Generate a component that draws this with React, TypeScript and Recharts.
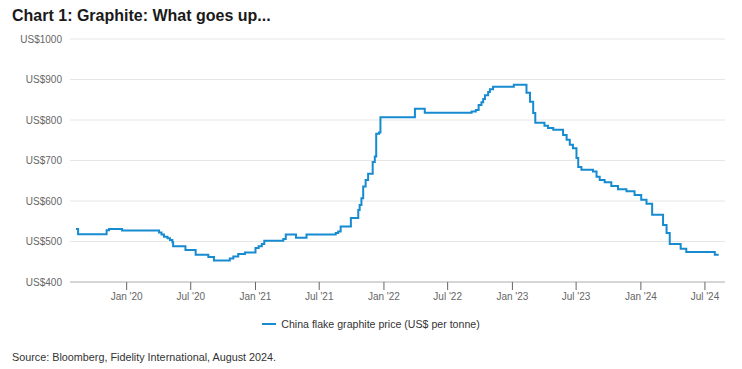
import React from 'react';
import { LineChart, Line, XAxis, YAxis, CartesianGrid } from 'recharts';

const dates = [
  '2019-08-10', '2019-08-16', '2019-11-05', '2019-11-12', '2019-12-19',
  '2020-04-02', '2020-04-09', '2020-04-16', '2020-04-26', '2020-05-03',
  '2020-05-10', '2020-05-12', '2020-06-16', '2020-07-15', '2020-08-20',
  '2020-09-05', '2020-10-20', '2020-10-30', '2020-11-13', '2020-12-02',
  '2021-01-01', '2021-01-10', '2021-01-19', '2021-01-26', '2021-03-21',
  '2021-03-28', '2021-04-26', '2021-05-26', '2021-08-17', '2021-08-24',
  '2021-08-31', '2021-09-29', '2021-10-20', '2021-10-24', '2021-10-29',
  '2021-11-03', '2021-11-10', '2021-11-17', '2021-11-30', '2021-12-06',
  '2021-12-10', '2021-12-18', '2021-12-22', '2022-03-30', '2022-04-27',
  '2022-09-07', '2022-09-19', '2022-09-27', '2022-10-05', '2022-10-10',
  '2022-10-15', '2022-10-24', '2022-10-29', '2022-11-07', '2023-01-05',
  '2023-02-10', '2023-02-20', '2023-03-01', '2023-03-07', '2023-04-02',
  '2023-04-12', '2023-04-27', '2023-05-25', '2023-06-04', '2023-06-13',
  '2023-06-22', '2023-07-02', '2023-07-07', '2023-07-16', '2023-08-18',
  '2023-08-28', '2023-09-06', '2023-09-20', '2023-10-09', '2023-10-28',
  '2023-11-21', '2023-12-14', '2024-01-02', '2024-01-17', '2024-02-02',
  '2024-03-04', '2024-03-14', '2024-03-23', '2024-04-23', '2024-05-09',
  '2024-07-29', '2024-08-09',
];

const prices = [
  531, 518, 528, 531, 527,
  522, 517, 512, 508, 504,
  498, 488, 479, 467, 462,
  453, 458, 463, 469, 473,
  484, 488, 494, 502, 506,
  517, 509, 517, 521, 525,
  537, 558, 578, 590, 607,
  636, 652, 667, 696, 710,
  766, 769, 807, 828, 818,
  821, 825, 837, 844, 852,
  861, 869, 876, 882, 887,
  867, 845, 817, 793, 786,
  780, 776, 763, 751, 739,
  730, 706, 684, 677, 673,
  660, 652, 646, 637, 629,
  624, 615, 603, 593, 566,
  541, 521, 494, 482, 474,
  467, 467,
];

const xTickDates = [
  '2020-01-01', '2020-07-01', '2021-01-01', '2021-07-01', '2022-01-01',
  '2022-07-01', '2023-01-01', '2023-07-01', '2024-01-01', '2024-07-01',
];
const xTickLabels = [
  "Jan '20", "Jul '20", "Jan '21", "Jul '21", "Jan '22",
  "Jul '22", "Jan '23", "Jul '23", "Jan '24", "Jul '24",
];
const yTicks = [400, 500, 600, 700, 800, 900, 1000];
const xDomainDates = ['2019-07-24', '2024-08-27'];

const seriesName = 'China flake graphite price (US$ per tonne)';
const titleText = 'Chart 1: Graphite: What goes up...';
const sourceText = 'Source: Bloomberg, Fidelity International, August 2024.';

const toTs = (d: string) => Date.parse(d + 'T00:00:00Z');
const data = dates.map((d, i) => ({ t: toTs(d), price: prices[i] }));
const xTicks = xTickDates.map(toTs);
const xDomain = xDomainDates.map(toTs);
const fmtX = (v: number) => {
  const i = xTicks.indexOf(v);
  return i >= 0 ? xTickLabels[i] : '';
};
const fmtY = (v: number) => `US$${v}`;

const FONT = '"Liberation Sans", Arial, Helvetica, sans-serif';
const LINE_COLOR = '#168bd0';

export default function App() {
  return (
    <div
      style={{
        position: 'absolute',
        left: 0,
        top: 0,
        width: 742,
        height: 369,
        background: '#ffffff',
        fontFamily: FONT,
      }}
    >
      <div
        style={{
          position: 'absolute',
          left: 12,
          top: 7,
          fontSize: 16,
          fontWeight: 'bold',
          color: '#1a1a1a',
          whiteSpace: 'nowrap',
        }}
      >
        {titleText}
      </div>
      <LineChart
        width={742}
        height={369}
        data={data}
        margin={{ top: 39, right: 17, bottom: 57, left: 0 }}
        style={{ fontFamily: FONT }}
      >
        <CartesianGrid horizontal={true} vertical={false} stroke="#e6e6e6" strokeWidth={1} />
        <XAxis
          dataKey="t"
          type="number"
          scale="time"
          domain={xDomain}
          ticks={xTicks}
          tickFormatter={fmtX}
          height={30}
          tickSize={8}
          tickMargin={3}
          axisLine={{ stroke: '#cccccc', strokeWidth: 1.5 }}
          tickLine={{ stroke: '#666666', strokeWidth: 1 }}
          tick={{ fill: '#666666', fontSize: 10, fontFamily: FONT }}
          allowDataOverflow={true}
          interval={0}
        />
        <YAxis
          type="number"
          domain={[400, 1000]}
          ticks={yTicks}
          tickFormatter={fmtY}
          width={70}
          axisLine={false}
          tickLine={false}
          tick={{ fill: '#666666', fontSize: 10, fontFamily: FONT }}
          interval={0}
        />
        <Line
          type="stepAfter"
          dataKey="price"
          name={seriesName}
          stroke={LINE_COLOR}
          strokeWidth={2}
          dot={false}
          activeDot={false}
          isAnimationActive={false}
        />
      </LineChart>
      <div
        style={{
          position: 'absolute',
          left: 0,
          top: 316,
          width: 742,
          display: 'flex',
          justifyContent: 'center',
          alignItems: 'center',
          fontSize: 10.6,
          color: '#333333',
          lineHeight: '16px',
        }}
      >
        <svg width={14} height={14} style={{ marginRight: 5 }}>
          <line x1={0} y1={7} x2={14} y2={7} stroke={LINE_COLOR} strokeWidth={2} />
        </svg>
        <span>{seriesName}</span>
      </div>
      <div
        style={{
          position: 'absolute',
          left: 12,
          top: 349,
          fontSize: 10.8,
          color: '#333333',
          whiteSpace: 'nowrap',
          lineHeight: '16px',
        }}
      >
        {sourceText}
      </div>
    </div>
  );
}
